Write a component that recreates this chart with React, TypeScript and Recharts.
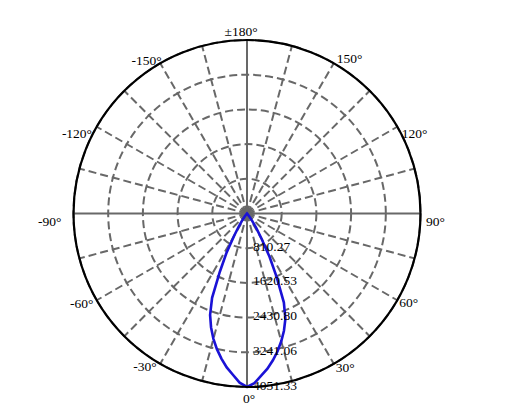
import { RadarChart, Radar, PolarGrid, PolarAngleAxis, PolarRadiusAxis } from "recharts";

// luminous intensity (cd), every 2.5° from nadir
const stepDeg = 2.5;
const rightSideCd = [4051, 3965, 3800, 3655, 3480, 3295, 3090, 2870, 2620, 2250, 1640, 1140, 680, 400, 210, 85, 25, 0];
const leftSideCd = [4051, 3955, 3780, 3625, 3440, 3245, 3030, 2790, 2520, 2130, 1500, 1040, 600, 360, 190, 75, 15, 0];

const ringValues = [810.27, 1620.53, 2430.8, 3241.06, 4051.33];
const spokeDeg = [0, 15, 30, 45, 60, 75, 90, 105, 120, 135, 150, 165, 180, 195, 210, 225, 240, 255, 270, 285, 300, 315, 330, 345];
const mainSpokeDeg = [0, 90, 180, 270];

// angle 0 = nadir; categories run 0, 357.5, 355 ... so the (clockwise) axis
// ends up drawing positive angles on the right-hand side
const angles = Array.from({ length: 360 / stepDeg }, (_, i) => (360 - i * stepDeg) % 360);
const table = angles.map((a) => {
  let cd = 0;
  if (a / stepDeg < rightSideCd.length) cd = rightSideCd[a / stepDeg];
  else if ((360 - a) / stepDeg < leftSideCd.length) cd = leftSideCd[(360 - a) / stepDeg];
  return { angle: a, cd };
});

const toChartAngle = (deg: number) => -90 + deg;

// label nudges: [anchor, dx, dy] from the point on the outer circle
const labelNudge: Record<number, [string, number, number]> = {
  0: ["middle", 2, 15.5],
  30: ["start", 2, 8],
  60: ["start", 2, 6.5],
  90: ["start", 5.5, 12.5],
  120: ["start", 4.4, 11],
  150: ["start", 3, -0.5],
  180: ["middle", -6, -4],
  210: ["end", 1.5, 2],
  240: ["end", -4.7, 11],
  270: ["end", -12, 12.5],
  300: ["end", -3.4, 7.5],
  330: ["end", -3.5, 7],
};

const FONT = '"Liberation Serif", "Times New Roman", serif';
const TICK_SIZE = 8;

function AngleTick(props: any) {
  const v = props.payload?.value;
  const nudge = labelNudge[v];
  if (!nudge) return null;
  // step back from the tick end onto the outer circle
  const rad = (-Math.PI / 180) * props.payload.coordinate;
  const bx = props.x - TICK_SIZE * Math.cos(rad);
  const by = props.y - TICK_SIZE * Math.sin(rad);
  const label = v === 180 ? "±180°" : v > 180 ? `-${360 - v}°` : `${v}°`;
  return (
    <text x={bx + nudge[1]} y={by + nudge[2]} textAnchor={nudge[0]} fontFamily={FONT} fontSize={13.5} fill="#000">
      {label}
    </text>
  );
}

function RadiusTick(props: any) {
  return (
    <text x={props.x + 6} y={props.y + 2.5} textAnchor="start" fontFamily={FONT} fontSize={13.5} fill="#000">
      {Number(props.payload.value).toFixed(2)}
    </text>
  );
}

export default function App() {
  return (
    <div style={{ width: 520, height: 402, fontFamily: FONT }}>
      <RadarChart
        width={520}
        height={402}
        data={table}
        cx={239}
        cy={205.5}
        outerRadius={173.5}
        startAngle={-90}
        endAngle={-450}
        margin={{ top: 0, right: 0, bottom: 0, left: 0 }}
      >
        <PolarGrid
          gridType="circle"
          polarAngles={spokeDeg.filter((d) => !mainSpokeDeg.includes(d)).map(toChartAngle)}
          stroke="#686868"
          strokeWidth={2}
          strokeDasharray="8 4"
        />
        <PolarGrid
          gridType="circle"
          polarAngles={mainSpokeDeg.map(toChartAngle)}
          polarRadius={[]}
          stroke="#686868"
          strokeWidth={2}
        />
        <Radar
          dataKey="cd"
          stroke="#1a12d6"
          strokeWidth={2.6}
          fill="none"
          fillOpacity={0}
          dot={false}
          isAnimationActive={false}
        />
        <PolarAngleAxis
          dataKey="angle"
          tickLine={false}
          tickSize={TICK_SIZE}
          axisLineType="circle"
          axisLine={{ stroke: "#000", strokeWidth: 2.2 }}
          tick={AngleTick}
        />
        <PolarRadiusAxis
          angle={-90}
          type="number"
          scale="linear"
          domain={[0, 4051.33]}
          ticks={ringValues}
          axisLine={false}
          tickLine={false}
          tick={RadiusTick}
        />
      </RadarChart>
    </div>
  );
}
